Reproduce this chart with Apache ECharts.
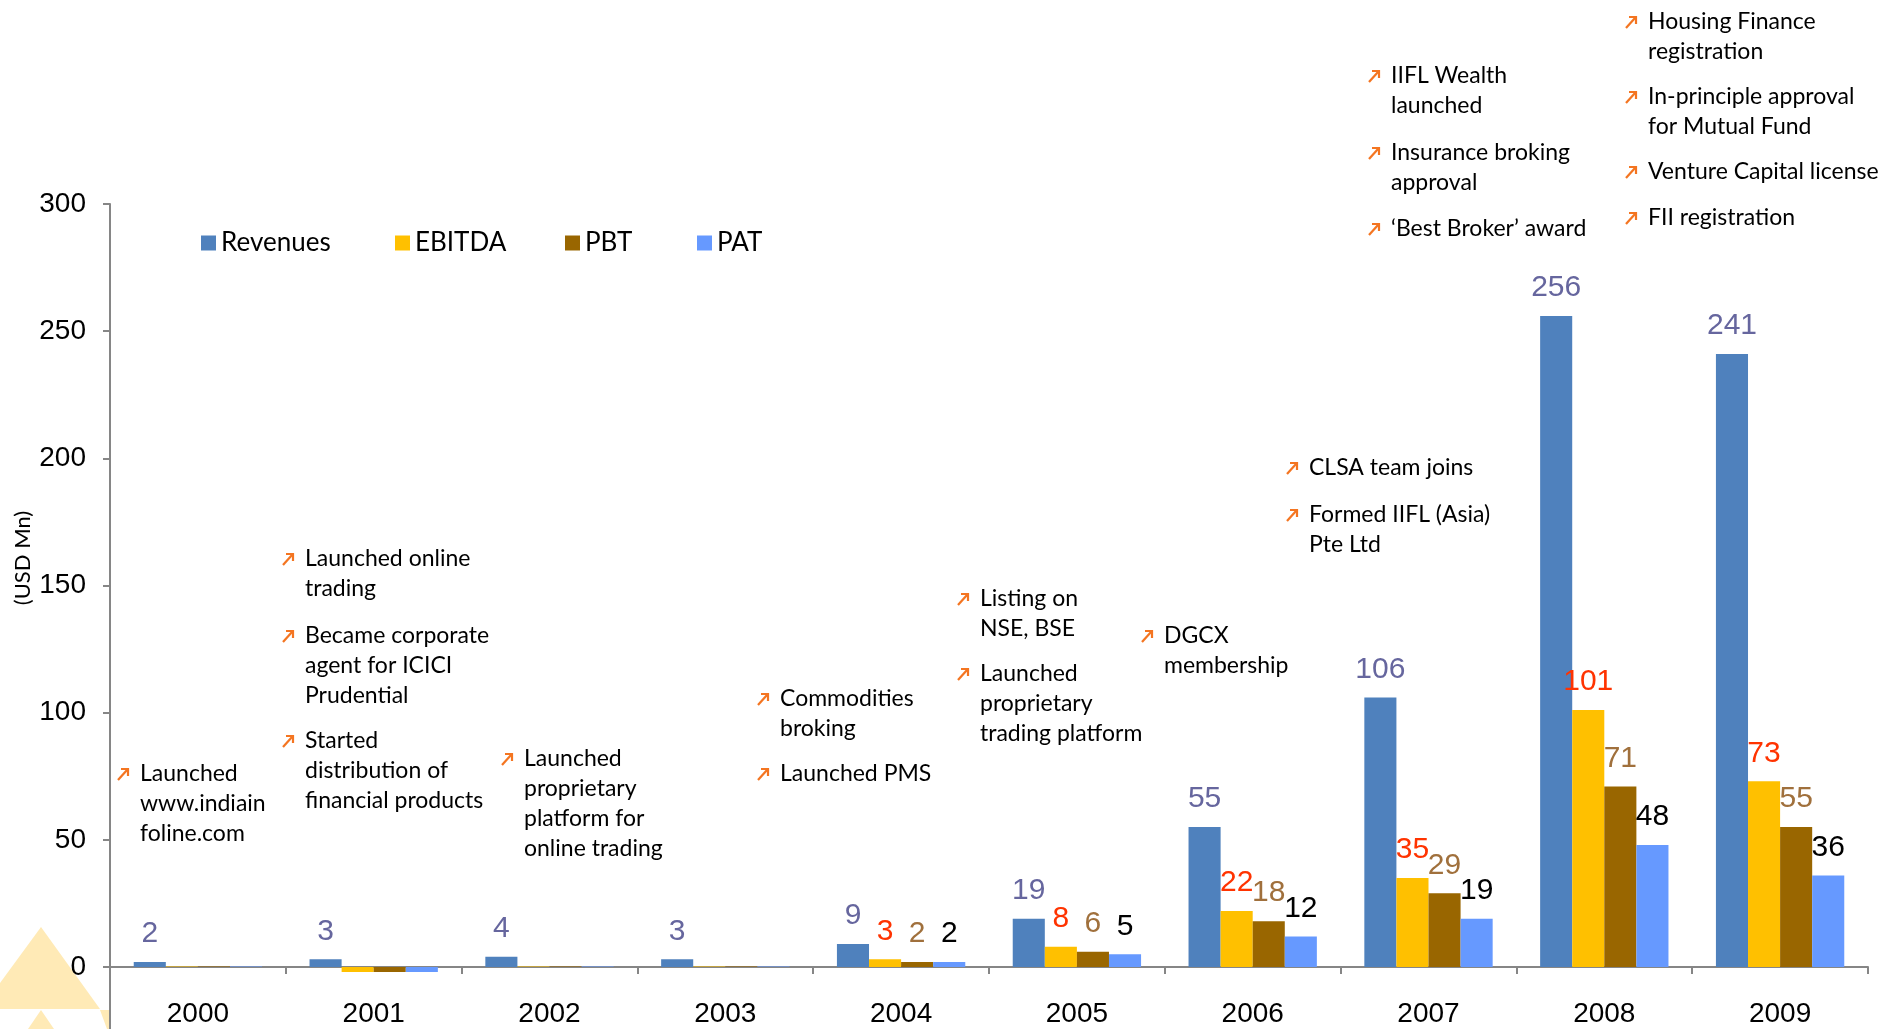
<!DOCTYPE html>
<html>
<head>
<meta charset="utf-8">
<title>IIFL milestones and financials</title>
<script src="https://cdn.jsdelivr.net/npm/echarts@6/dist/echarts.min.js"></script>
<style>
  html, body { margin: 0; padding: 0; background: #ffffff; }
  #chart { width: 1902px; height: 1029px; }
</style>
</head>
<body>
<div id="chart"></div>
<script>
// ---- data ----
const years = ['2000', '2001', '2002', '2003', '2004', '2005', '2006', '2007', '2008', '2009'];
const revenues = [2, 3, 4, 3, 9, 19, 55, 106, 256, 241];
const ebitda   = [0.2, -2, 0.2, 0.2, 3, 8, 22, 35, 101, 73];
const pbt      = [0.2, -2, 0.2, 0.2, 2, 6, 18, 29, 71, 55];
const pat      = [0.2, -2, 0.2, 0.2, 2, 5, 12, 19, 48, 36];

// milestone notes, one bullet per inner array, one string per printed line
const notes2000 = [['Launched', 'www.indiain', 'foline.com']];
const notes2001 = [['Launched online', 'trading'],
                   ['Became corporate', 'agent for ICICI', 'Prudential'],
                   ['Started', 'distribution of', 'financial products']];
const notes2002 = [['Launched', 'proprietary', 'platform for', 'online trading']];
const notes2004 = [['Commodities', 'broking'], ['Launched PMS']];
const notes2005 = [['Listing on', 'NSE, BSE'], ['Launched', 'proprietary', 'trading platform']];
const notes2006 = [['DGCX', 'membership']];
const notes2006b = [['CLSA team joins'], ['Formed IIFL (Asia)', 'Pte Ltd']];
const notes2007 = [['IIFL Wealth', 'launched'], ['Insurance broking', 'approval'], ['\u2018Best Broker\u2019 award']];
const notes2008 = [['Housing Finance', 'registration'], ['In-principle approval', 'for Mutual Fund'],
                   ['Venture Capital license'], ['FII registration']];

// ---- layout of the note columns (arrow x, first-line centre y of each bullet) ----
const noteLayout = [
  { notes: notes2000,  x: 117,  ys: [774] },
  { notes: notes2001,  x: 282,  ys: [559, 636, 741] },
  { notes: notes2002,  x: 501,  ys: [759] },
  { notes: notes2004,  x: 757,  ys: [699, 774] },
  { notes: notes2005,  x: 957,  ys: [599, 674] },
  { notes: notes2006,  x: 1141, ys: [636] },
  { notes: notes2006b, x: 1286, ys: [468, 515] },
  { notes: notes2007,  x: 1368, ys: [76, 153, 229] },
  { notes: notes2008,  x: 1625, ys: [22, 97, 172, 218] }
];

const ARROW = '#F47521';
const NOTE_FONT = 'Lato, "Open Sans", sans-serif';
const NUM_FONT = '"Liberation Sans", Arial, sans-serif';
const AXIS_FONT = '"Liberation Sans", Arial, sans-serif';
const AXIS_GREY = '#868686';

function bullet(x, cy, lines) {
  return [
    { type: 'polyline', silent: true,
      shape: { points: [[x + 1, cy + 6], [x + 10, cy - 4]] },
      style: { stroke: ARROW, lineWidth: 2.2, fill: null } },
    { type: 'polyline', silent: true,
      shape: { points: [[x + 4, cy - 5], [x + 11, cy - 5], [x + 11, cy + 2]] },
      style: { stroke: ARROW, lineWidth: 2.2, fill: null } },
    { type: 'text', silent: true, x: x + 23, y: cy - 15,
      style: { text: lines.join('\n'), fill: '#000000', fontFamily: NOTE_FONT, fontSize: 23,
               lineHeight: 30, verticalAlign: 'top', align: 'left' } }
  ];
}

const noteGraphics = [];
noteLayout.forEach(col => {
  col.notes.forEach((lines, i) => noteGraphics.push(...bullet(col.x, col.ys[i], lines)));
});

// pale triangle emblem in the lower left corner
const emblem = [
  { type: 'polygon', z: -10, silent: true,
    shape: { points: [[-19, 1009], [41, 927], [100, 1009]] }, style: { fill: '#FFEAB6' } },
  { type: 'polygon', z: -10, silent: true,
    shape: { points: [[41, 1010], [28, 1029], [54, 1029]] }, style: { fill: '#FFEAB6' } },
  { type: 'polygon', z: -10, silent: true,
    shape: { points: [[100, 1010], [110, 1010], [110, 1029], [107, 1029]] }, style: { fill: '#FFEAB6' } }
];

// the value axis line runs on below the category axis to the page edge
const axisTail = {
  type: 'line', silent: true,
  shape: { x1: 110, y1: 966, x2: 110, y2: 1029 },
  style: { stroke: AXIS_GREY, lineWidth: 2 }
};

const axisTitle = {
  type: 'text', silent: true, x: 23, y: 558, rotation: Math.PI / 2,
  style: { text: '(USD Mn)', fill: '#000000', fontFamily: NOTE_FONT, fontSize: 22,
           align: 'center', verticalAlign: 'middle' }
};

function barLabel(color) {
  return {
    show: true, position: 'top', distance: 13, color: color,
    fontFamily: NUM_FONT, fontSize: 30,
    formatter: p => (p.value >= 1 ? String(Math.round(p.value)) : '')
  };
}

function legendAt(name, left) {
  return {
    data: [name], left: left, top: 230, padding: 0, icon: 'rect',
    itemWidth: 15, itemHeight: 15, selectedMode: false,
    textStyle: { fontFamily: NOTE_FONT, fontSize: 26, color: '#000000' }
  };
}

const axisLineStyle = { color: AXIS_GREY, width: 2 };

const option = {
  animation: false,
  backgroundColor: '#ffffff',
  legend: [
    legendAt('Revenues', 201),
    legendAt('EBITDA', 395),
    legendAt('PBT', 565),
    legendAt('PAT', 697)
  ],
  grid: { left: 110, right: 34, top: 204, bottom: 62 },
  xAxis: {
    type: 'category', data: years, boundaryGap: true,
    axisLine: { show: true, lineStyle: axisLineStyle },
    axisTick: { show: true, length: 7, lineStyle: axisLineStyle },
    axisLabel: { fontFamily: AXIS_FONT, fontSize: 28, color: '#000000', margin: 33 },
    splitLine: { show: false }
  },
  yAxis: {
    type: 'value', min: 0, max: 300, interval: 50,
    axisLine: { show: true, lineStyle: axisLineStyle },
    axisTick: { show: true, length: 7, lineStyle: axisLineStyle },
    axisLabel: { fontFamily: AXIS_FONT, fontSize: 28, color: '#000000', margin: 24 },
    splitLine: { show: false }
  },
  series: [
    { name: 'Revenues', type: 'bar', data: revenues, barGap: '0%', barCategoryGap: '27%', clip: false,
      itemStyle: { color: '#4F81BD' }, label: barLabel('#66669E') },
    { name: 'EBITDA', type: 'bar', data: ebitda, clip: false,
      itemStyle: { color: '#FFC000' }, label: barLabel('#FF3300') },
    { name: 'PBT', type: 'bar', data: pbt, clip: false,
      itemStyle: { color: '#996600' }, label: barLabel('#A0703C') },
    { name: 'PAT', type: 'bar', data: pat, clip: false,
      itemStyle: { color: '#6699FF' }, label: barLabel('#000000') }
  ],
  graphic: [...emblem, axisTail, axisTitle, ...noteGraphics]
};

const chart = echarts.init(document.getElementById('chart'), null, { renderer: 'canvas' });
chart.setOption(option);
</script>
</body>
</html>
